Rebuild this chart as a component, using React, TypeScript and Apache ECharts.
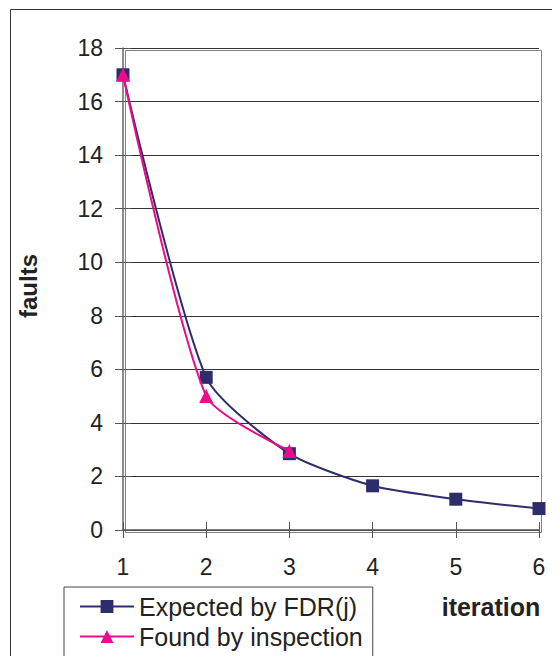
import React, { useEffect, useRef } from "react";
import * as echarts from "echarts";

const iterations = [1, 2, 3, 4, 5, 6];
const expectedFDR = [17, 5.7, 2.85, 1.65, 1.15, 0.8];
const foundIter = [1, 2, 3];
const foundByInspection = [17, 5.0, 2.95];
const yTicks = { min: 0, max: 18, interval: 2 };

const NAVY = "#2D2D6B";
const PINK = "#EE0A8C";
const FONT = "Liberation Sans, Arial, sans-serif";

export default function App() {
  const ref = useRef<HTMLDivElement>(null);
  useEffect(() => {
    if (!ref.current) return;
    const chart = echarts.init(ref.current, null, { renderer: "svg" });
    const grid = { left: 123, right: 21, top: 48, bottom: 134 };
    chart.setOption({
      animation: false,
      backgroundColor: "#fff",
      grid,
      legend: {
        orient: "vertical",
        left: 64,
        top: 587,
        width: 310,
        padding: [7, 10, 8, 15],
        itemGap: 5,
        itemWidth: 54,
        itemHeight: 16,
        borderColor: "#444",
        borderWidth: 1,
        borderRadius: 0,
        textStyle: { fontFamily: FONT, fontSize: 25, lineHeight: 25, color: "#222", padding: [0, 0, 0, 0] },
        data: ["Expected by FDR(j)", "Found by inspection"],
      },
      xAxis: [
        {
          type: "value",
          min: 1,
          max: 6,
          interval: 1,
          axisLine: { show: true, lineStyle: { color: "#555", width: 1.5 } },
          axisTick: { show: true, length: 8, lineStyle: { color: "#555" } },
          axisLabel: { fontFamily: FONT, fontSize: 23, color: "#222", margin: 25 },
          splitLine: { show: false },
        },
        {
          type: "value",
          min: 1,
          max: 6,
          interval: 1,
          position: "bottom",
          axisLine: { show: false },
          axisTick: { show: true, inside: true, length: 8, lineStyle: { color: "#555" } },
          axisLabel: { show: false },
          splitLine: { show: false },
        },
      ],
      yAxis: [
        {
          type: "value",
          min: yTicks.min,
          max: yTicks.max,
          interval: yTicks.interval,
          axisLine: { show: true, lineStyle: { color: "#666", width: 1.5 } },
          axisTick: { show: true, length: 8, lineStyle: { color: "#555" } },
          axisLabel: { fontFamily: FONT, fontSize: 23, color: "#222", margin: 20 },
          splitLine: { show: true, lineStyle: { color: "#333", width: 1 } },
        },
        {
          type: "value",
          min: yTicks.min,
          max: yTicks.max,
          interval: yTicks.interval,
          position: "left",
          axisLine: { show: false },
          axisTick: { show: true, inside: true, length: 8, lineStyle: { color: "#555" } },
          axisLabel: { show: false },
          splitLine: { show: false },
        },
      ],
      graphic: [
        {
          type: "rect",
          left: 8,
          top: 7,
          shape: { width: 545, height: 650 },
          style: { fill: "none", stroke: "#333", lineWidth: 1 },
          silent: true,
          z: -1,
        },
        {
          type: "rect",
          left: 123,
          top: 48,
          shape: { width: 416, height: 482 },
          style: { fill: "none", stroke: "#8a8080", lineWidth: 1 },
          silent: true,
          z: 0,
        },
        {
          type: "text",
          x: 28,
          y: 286,
          rotation: Math.PI / 2,
          style: {
            text: "faults",
            fontFamily: FONT,
            fontSize: 24,
            fontWeight: "bold",
            fill: "#222",
            align: "center",
            verticalAlign: "middle",
          },
        },
        {
          type: "text",
          x: 491,
          y: 607,
          style: {
            text: "iteration",
            fontFamily: FONT,
            fontSize: 25,
            fontWeight: "bold",
            fill: "#222",
            align: "center",
            verticalAlign: "middle",
          },
        },
      ],
      series: [
        {
          name: "Expected by FDR(j)",
          type: "line",
          smooth: 0.22,
          data: iterations.map((x, i) => [x, expectedFDR[i]]),
          symbol: "rect",
          symbolSize: 13,
          itemStyle: { color: NAVY },
          lineStyle: { color: NAVY, width: 2 },
          z: 3,
        },
        {
          name: "Found by inspection",
          type: "line",
          smooth: 0.22,
          data: foundIter.map((x, i) => [x, foundByInspection[i]]),
          symbol: "triangle",
          symbolSize: 14,
          itemStyle: { color: PINK },
          lineStyle: { color: PINK, width: 2 },
          z: 4,
        },
      ],
    });
    return () => chart.dispose();
  }, []);
  return <div ref={ref} style={{ width: 560, height: 664, margin: -8 }} />;
}
